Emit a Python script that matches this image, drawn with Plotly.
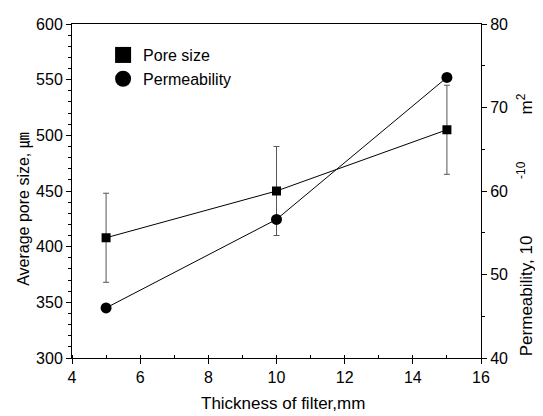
import plotly.graph_objects as go

thickness = [5, 10, 15]
pore_size = [408, 450, 505]
pore_err = [40, 40, 40]
permeability = [46.0, 56.6, 73.6]

FONT = "Liberation Sans, Arial, sans-serif"

fig = go.Figure()
fig.add_trace(go.Scatter(
    x=thickness, y=pore_size, mode="lines+markers", name="Pore size",
    line=dict(color="black", width=1),
    marker=dict(symbol="square", size=9, color="black"),
    error_y=dict(type="data", array=pore_err, visible=True, color="#555555", thickness=1, width=3),
    showlegend=False,
))
fig.add_trace(go.Scatter(
    x=thickness, y=permeability, mode="lines+markers", name="Permeability", yaxis="y2",
    line=dict(color="black", width=1),
    marker=dict(symbol="circle", size=11, color="black"),
    showlegend=False,
))
# legend entries
fig.add_trace(go.Scatter(x=[None], y=[None], mode="markers", name="Pore size",
                         marker=dict(symbol="square", size=16, color="black")))
fig.add_trace(go.Scatter(x=[None], y=[None], mode="markers", name="Permeability",
                         marker=dict(symbol="circle", size=16, color="black")))

gap1 = "&nbsp;" * 12
gap2 = "&nbsp;" * 10

fig.update_layout(
    width=535, height=408,
    margin=dict(l=64, r=62, t=8, b=58),
    paper_bgcolor="white", plot_bgcolor="white",
    font=dict(family=FONT, size=16, color="black"),
    showlegend=True,
    legend=dict(x=0.076, y=0.958, xanchor="left", yanchor="top",
                bgcolor="rgba(0,0,0,0)", font=dict(size=16), tracegroupgap=0,
                itemsizing="trace"),
    xaxis=dict(range=[4, 16], tickvals=[4, 6, 8, 10, 12, 14, 16], showline=True, linecolor="black",
               linewidth=1, mirror=True, ticks="outside", ticklen=5, tickcolor="black",
               showgrid=False, zeroline=False, tickfont=dict(size=16), ticklabeloverflow="allow",
               minor=dict(dtick=1, ticks="inside", ticklen=3, tickcolor="black", showgrid=False)),
    yaxis=dict(range=[300, 600], tickvals=[300, 350, 400, 450, 500, 550, 600], showline=True,
               linecolor="black", linewidth=1, ticks="outside", ticklen=5, tickcolor="black",
               showgrid=False, zeroline=False, tickfont=dict(size=16), ticklabeloverflow="allow",
               minor=dict(dtick=10, ticks="outside", ticklen=3, tickcolor="black", showgrid=False)),
    yaxis2=dict(range=[40, 80], tickvals=[40, 50, 60, 70, 80], overlaying="y", side="right",
                showline=True, linecolor="black", linewidth=1, ticks="outside", ticklen=5,
                tickcolor="black", showgrid=False, zeroline=False, tickfont=dict(size=16),
                ticklabeloverflow="allow",
                minor=dict(dtick=5, ticks="outside", ticklen=3, tickcolor="black", showgrid=False)),
    annotations=[
        dict(text="Thickness of filter,mm", xref="paper", yref="paper", x=0.516, y=-0.137,
             xanchor="center", yanchor="middle", showarrow=False, font=dict(size=17)),
        dict(text="Average pore size, <span style='font-family:Noto Sans CJK JP'>㎛</span>",
             xref="paper", yref="paper", x=-0.122, y=0.447,
             xanchor="center", yanchor="middle", textangle=-90, showarrow=False, font=dict(size=16)),
        dict(text=f"Permeability, 10{gap1}<sup>-10</sup>{gap2}m<sup>2</sup>", xref="paper", yref="paper",
             x=1.108, y=0.398, xanchor="center", yanchor="middle", textangle=-90, showarrow=False,
             font=dict(size=17)),
    ],
)

fig.write_html("out.html")
